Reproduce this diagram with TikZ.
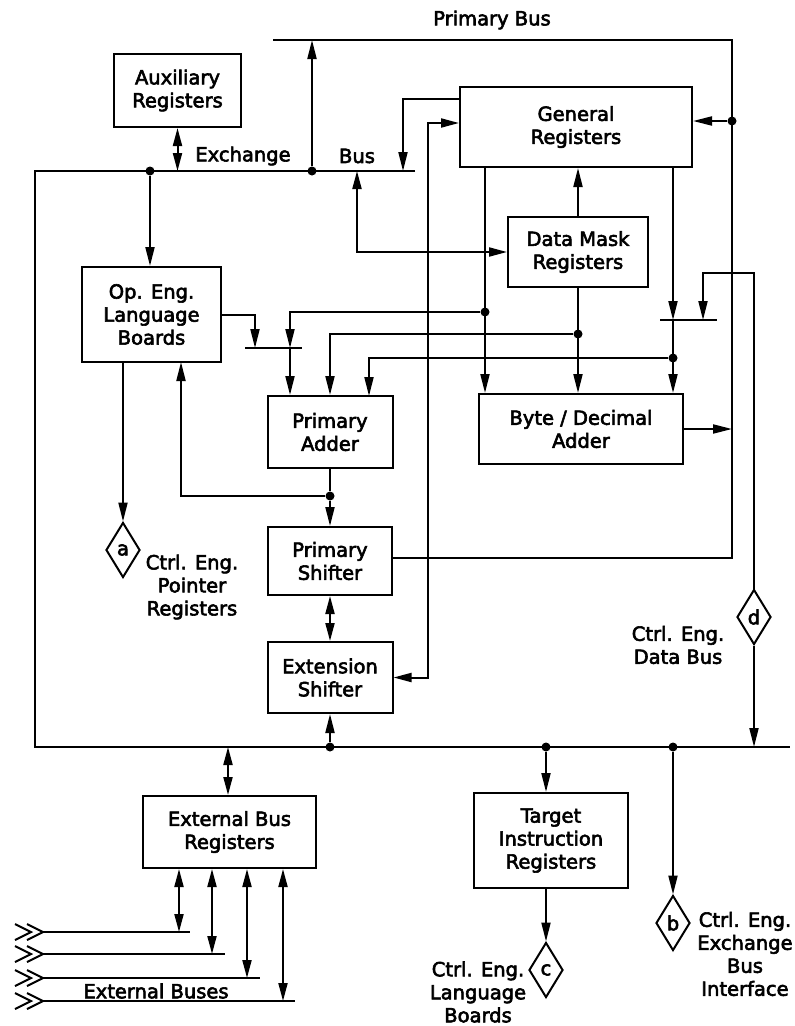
\documentclass[tikz,border=0pt]{standalone}
\usepackage{fontspec}
\setmainfont{DejaVu Sans}
\newfontfamily\diafont{DejaVu Sans}[FakeBold=3]
\usepackage{tikz}
\usetikzlibrary{arrows.meta,shapes.geometric}
\tikzstyle{block}=[draw, line width=2pt, align=center, inner sep=2pt, font=\diafont\fontsize{19.5}{23}\selectfont]
\tikzstyle{conn}=[diamond, draw, line width=2pt, inner sep=0pt, minimum width=34pt, minimum height=55pt, font=\diafont\fontsize{19.5}{23}\selectfont]
\tikzstyle{junction}=[circle, fill=black, inner sep=0pt, minimum size=9pt]
\tikzstyle{edge}=[line width=2pt]
\tikzstyle{dedge}=[edge,-{Triangle[length=19pt,width=9pt]}]
\tikzstyle{bedge}=[edge,{Triangle[length=18pt,width=9pt]}-{Triangle[length=18pt,width=9pt]}]
\tikzstyle{labelsty}=[align=center, font=\diafont\fontsize{19.5}{23}\selectfont]

\begin{document}
\begin{tikzpicture}[x=1pt,y=-1pt]
				\useasboundingbox (0,0) rectangle (795,1026);
				
				\node[block, minimum width=127pt, minimum height=73pt] (aux) at (177.5,90.5) {Auxiliary\\Registers};
				\node[block, minimum width=232pt, minimum height=80pt] (gen) at (576,127) {General\\Registers};
				\node[block, minimum width=140pt, minimum height=70pt] (mask) at (578,252) {Data Mask\\Registers};
				\node[block, minimum width=139pt, minimum height=95pt] (openg) at (151.5,314.5) {Op. Eng.\\Language\\Boards};
				\node[block, minimum width=125pt, minimum height=72pt] (padd) at (330,432) {Primary\\Adder};
				\node[block, minimum width=204pt, minimum height=70pt] (bda) at (581,429) {Byte / Decimal\\Adder};
				\node[block, minimum width=124pt, minimum height=68pt] (pshift) at (330,561) {Primary\\Shifter};
				\node[block, minimum width=125pt, minimum height=71pt] (eshift) at (330,677.5) {Extension\\Shifter};
				\node[block, minimum width=173pt, minimum height=72pt] (ebr) at (229.5,832) {External Bus\\Registers};
				\node[block, minimum width=154pt, minimum height=95pt] (tir) at (551,840.5) {Target\\Instruction\\Registers};
				
				\node[conn] (da) at (123,550) {a};
				\node[conn] (db) at (673,923) {b};
				\node[conn] (dc) at (546,970) {c};
				\node[conn] (dd) at (754,617) {d};
				
				\node[junction] (j1) at (150,171) {};
				\node[junction] (j2) at (312,171) {};
				\node[junction] (j3) at (732,121) {};
				\node[junction] (j4) at (485,312) {};
				\node[junction] (j5) at (578,334) {};
				\node[junction] (j6) at (673,358) {};
				\node[junction] (j7) at (330,496) {};
				\node[junction] (j8) at (330,747) {};
				\node[junction] (j9) at (546,747) {};
				\node[junction] (j10) at (673,747) {};
				
				\coordinate (pbL) at (273,40);
				\coordinate (pbC) at (732,558);
				\coordinate (xbL) at (35,171);
				\coordinate (xbR) at (415,171);
				\coordinate (xb3) at (357,171);
				\coordinate (bbL) at (35,747);
				\coordinate (bbR) at (790,747);
				\coordinate (bb4) at (228,747);
				\coordinate (gy1) at (0,99);
				\coordinate (gx1) at (403,171);
				\coordinate (gx2) at (428,123);
				\coordinate (blA) at (245,348);
				\coordinate (blB) at (302,348);
				\coordinate (bl1) at (255,348);
				\coordinate (bl2) at (290,348);
				\coordinate (brA) at (660,320);
				\coordinate (brB) at (717,320);
				\coordinate (br1) at (673,320);
				\coordinate (br2) at (703,320);
				\coordinate (dtop) at (754,273);
				\coordinate (pin3) at (369,396);
				\coordinate (oin) at (181,362);
				
				\draw[edge] (xbR) -- (xbL) -- (bbL) -- (bbR);
				\draw[edge] (pbL) -| (pbC) -- (pshift.east |- pbC);
				\draw[bedge] (aux.south) -- (aux.south |- xbL);
				\draw[dedge] (j1) -- (j1 |- openg.north);
				\draw[dedge] (j2) -- (j2 |- pbL);
				\draw[dedge] (gen.west |- gy1) -| (gx1);
				\draw[bedge] (eshift.east) -| (gx2) -- (gen.west |- gx2);
				\draw[bedge] (xb3) |- (mask.west);
				\draw[dedge] (mask.north) -- (mask.north |- gen.south);
				\draw[dedge] (j3) -- (j3 -| gen.east);
				\draw[dedge] (bda.east) -- (bda.east -| pbC);
				
				\draw[dedge] (gen.south -| j4) -- (bda.north -| j4);
				\draw[dedge] (j4) -| (bl2);
				\draw[dedge] (bl2) -- (bl2 |- padd.north);
				\draw[dedge] (openg.east) -| (bl1);
				\draw[edge] (blA) -- (blB);
				\draw[dedge] (mask.south) -- (mask.south |- bda.north);
				\draw[dedge] (j5) -| (padd.north);
				\draw[dedge] (j6) -| (pin3);
				\draw[dedge] (gen.south -| br1) -- (br1);
				\draw[dedge] (br1) -- (br1 |- bda.north);
				\draw[edge] (brA) -- (brB);
				\draw[dedge] (dd.north) -- (dtop) -| (br2);
				\draw[dedge] (dd.south) -- (dd.south |- bbR);
				
				\draw[edge] (padd.south) -- (j7);
				\draw[dedge] (j7) -- (pshift.north);
				\draw[dedge] (j7) -| (oin);
				\draw[dedge] (openg.south -| da) -- (da.north);
				\draw[bedge] (pshift.south) -- (eshift.north);
				\draw[dedge] (j8) -- (eshift.south);
				\draw[bedge] (bb4) -- (bb4 |- ebr.north);
				\draw[dedge] (j9) -- (j9 |- tir.north);
				\draw[dedge] (tir.south -| dc) -- (dc.north);
				\draw[dedge] (j10) -- (db.north);
				
				\foreach \x/\y/\e [count=\i] in {179/932/190, 212/954/225, 247/978/260, 283/1001/295}{
					\coordinate (eb\i) at (\x,\y);
					\coordinate (ebs\i) at (42,\y);
					\coordinate (ebe\i) at (\e,\y);
					\draw[bedge] (ebr.south -| eb\i) -- (eb\i);
					\draw[edge] (ebs\i) -- (ebe\i);
					\draw[edge] (15,\y-8) -- (31,\y) -- (15,\y+8);
					\draw[edge] (27,\y-8) -- (43,\y) -- (27,\y+8);
				}
				
				\node[labelsty] (pbus) at (492,20) {Primary Bus};
				\node[labelsty] (xbus1) at (243,156) {Exchange};
				\node[labelsty] (xbus2) at (357,156) {Bus};
				\node[labelsty] (la) at (192,587) {Ctrl. Eng.\\Pointer\\Registers};
				\node[labelsty] (ld) at (678,645) {Ctrl. Eng.\\Data Bus};
				\node[labelsty] (lc) at (478,992) {Ctrl. Eng.\\Language\\Boards};
				\node[labelsty] (lb) at (745,954) {Ctrl. Eng.\\Exchange\\Bus\\Interface};
				\node[labelsty] (lext) at (156,991) {External Buses};
			\end{tikzpicture}
\end{document}
